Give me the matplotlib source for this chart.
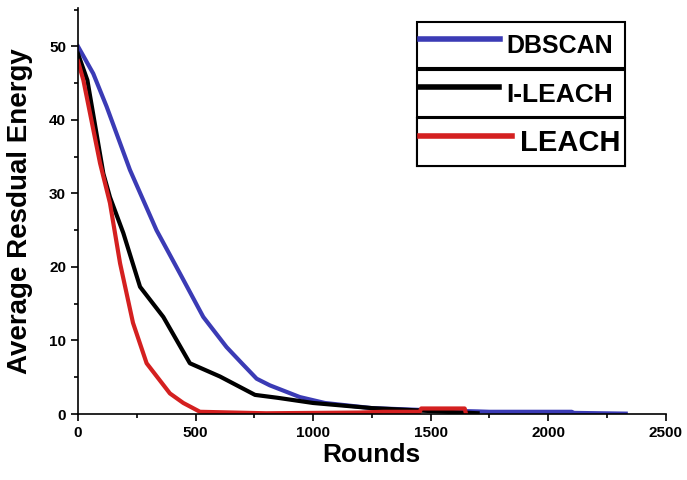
import matplotlib.pyplot as plt
from matplotlib.ticker import MultipleLocator

plt.rcParams['font.family'] = ['Liberation Sans', 'DejaVu Sans']

# values
dbscan_x = [0, 65, 122, 221, 334, 434, 533, 632, 700, 760, 816, 944, 1050, 1250, 1500, 1700, 1750, 2100, 2110, 2330]
dbscan_y = [50, 46.3, 41.8, 33.2, 25, 19.1, 13.2, 9.1, 6.8, 4.8, 3.9, 2.3, 1.5, 0.8, 0.5, 0.35, 0.3, 0.3, 0.15, 0.05]

ileach_x = [0, 40, 108, 136, 193, 264, 363, 476, 604, 753, 850, 1000, 1250, 1500, 1700]
ileach_y = [49, 45.4, 32.7, 29.5, 24.6, 17.3, 13.2, 6.9, 5.1, 2.6, 2.2, 1.5, 0.8, 0.4, 0.1]

leach_x = [0, 23, 94, 136, 179, 234, 292, 391, 448, 519, 800, 1200, 1300, 1454, 1460, 1645, 1650]
leach_y = [48, 45.4, 34.1, 28.7, 20.5, 12.4, 6.9, 2.8, 1.5, 0.3, 0.1, 0.2, 0.3, 0.3, 0.75, 0.75, 0.1]

fig = plt.figure(figsize=(6.87, 4.80), dpi=100)
ax = fig.add_axes([0.1135, 0.1375, 0.8555, 0.8455])

l1, = ax.plot(dbscan_x, dbscan_y, color='#3b3bb5', lw=3, label='DBSCAN')
l2, = ax.plot(ileach_x, ileach_y, color='black', lw=3, label='I-LEACH')
l3, = ax.plot(leach_x, leach_y, color='#d42020', lw=3, label='LEACH')

ax.set_xlim(0, 2500)
ax.set_ylim(0, 55.2)
ax.xaxis.set_major_locator(MultipleLocator(500))
ax.xaxis.set_minor_locator(MultipleLocator(250))
ax.yaxis.set_major_locator(MultipleLocator(10))
ax.yaxis.set_minor_locator(MultipleLocator(5))
ax.tick_params(which='major', length=5, width=1.2, labelsize=11)
ax.tick_params(which='minor', length=3, width=1.2)
for t in ax.get_xticklabels() + ax.get_yticklabels():
    t.set_fontweight('bold')

for s in ['top', 'right']:
    ax.spines[s].set_visible(False)
for s in ['left', 'bottom']:
    ax.spines[s].set_linewidth(1.2)

ax.set_xlabel('Rounds', fontsize=19, fontweight='bold', labelpad=2)
ax.set_ylabel('Average Resdual Energy', fontsize=20, fontweight='bold', labelpad=12)

# legend: each entry in its own box, stacked
box_x, box_w, box_h = 0.5765, 0.354, 0.118
tops = [0.9655, 0.8475, 0.7295]
sizes = [18, 19, 21]
hlens = [3.2, 3.0, 3.15]
for line, top, fs, hl in zip([l1, l2, l3], tops, sizes, hlens):
    leg = ax.legend(handles=[line], loc='upper left', mode='expand',
                    bbox_to_anchor=(box_x, top - box_h, box_w, box_h),
                    prop={'size': fs, 'weight': 'bold'}, handlelength=hl,
                    handleheight=1.24 * 42 / (fs * 1.389), handletextpad=0.28,
                    fancybox=False, framealpha=1, edgecolor='black',
                    borderpad=0.12, borderaxespad=0)
    leg.get_frame().set_linewidth(1.5)
    leg.get_lines()[0].set_linewidth(4)
    ax.add_artist(leg)

fig.savefig('out.png', dpi=100)
